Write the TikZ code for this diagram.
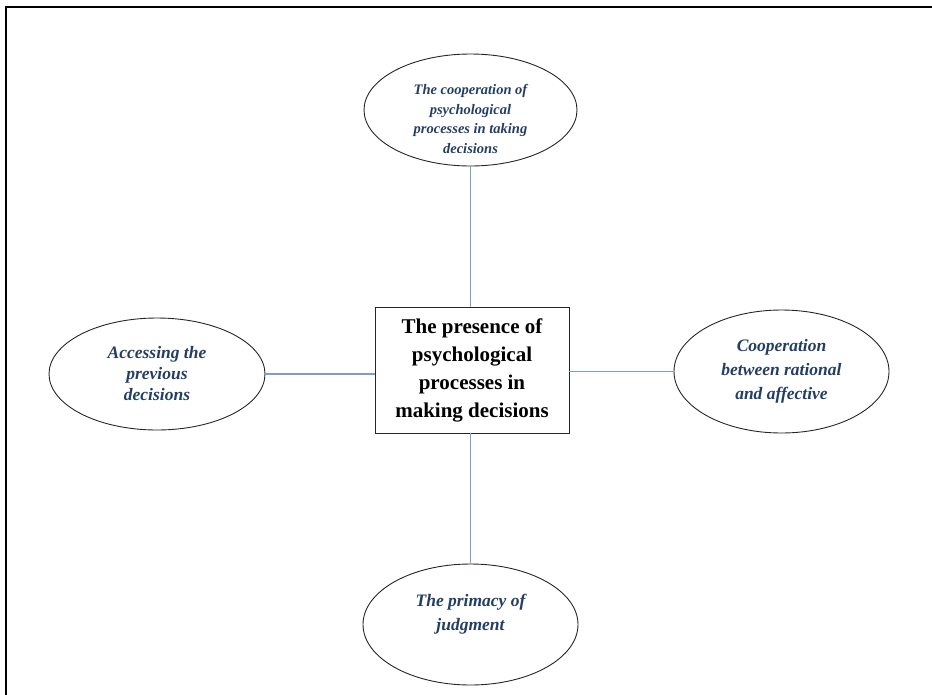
\documentclass[tikz,border=0pt]{standalone}
\usepackage{fontspec}
\setmainfont{Liberation Serif}
\usetikzlibrary{shapes.geometric}
\definecolor{linkblue}{RGB}{124,158,200}
\definecolor{textnavy}{RGB}{36,62,99}
\tikzset{
    topic/.style={ellipse, draw=black!85, line width=0.9pt, inner sep=0pt, align=center,
        font=\bfseries\itshape, text=textnavy},
    core/.style={rectangle, draw=black!85, line width=0.9pt, inner sep=0pt, align=center,
        minimum width=194pt, minimum height=126pt, font=\fontsize{21}{28}\selectfont\bfseries},
    link/.style={linkblue, line width=1.3pt}
}
\begin{document}
\begin{tikzpicture}[x=1pt, y=-1pt]
    \useasboundingbox (0,0) rectangle (932,694);
    % frame
    \draw[line width=2pt] (6,700) -- (6,6.5) -- (940,6.5);

    % centre box
    \node[core] (box) at (472,370) {The presence of\\psychological\\processes in\\making decisions};

    % ellipses
    \node[topic, minimum width=213pt, minimum height=112pt, text height=86.5pt, inner ysep=-18pt,
        font=\fontsize{14.5}{19.5}\selectfont\bfseries\itshape]
        (coop) at (470.5,110) {The cooperation of\\psychological\\processes in taking\\decisions};
    \node[topic, minimum width=215pt, minimum height=123pt, font=\fontsize{17.5}{24}\selectfont\bfseries\itshape]
        (ratio) at (781.5,371.5) {Cooperation\\between rational\\and affective};
    \node[topic, minimum width=216pt, minimum height=112pt, font=\fontsize{17.5}{21}\selectfont\bfseries\itshape]
        (prev) at (157,374) {Accessing the\\previous\\decisions};
    \node[topic, minimum width=215pt, minimum height=121pt, font=\fontsize{17.5}{24}\selectfont\bfseries\itshape]
        (primacy) at (470.5,624.5) {The primacy of\\judgment\\~};

    % connectors
    \draw[link] (coop.south) -- (coop.south |- box.north);
    \draw[link] (box.east |- ratio.west) -- (ratio.west);
    \draw[link] (prev.east) -- (prev.east -| box.west);
    \draw[link] (primacy.north) -- (primacy.north |- box.south);
\end{tikzpicture}
\end{document}
